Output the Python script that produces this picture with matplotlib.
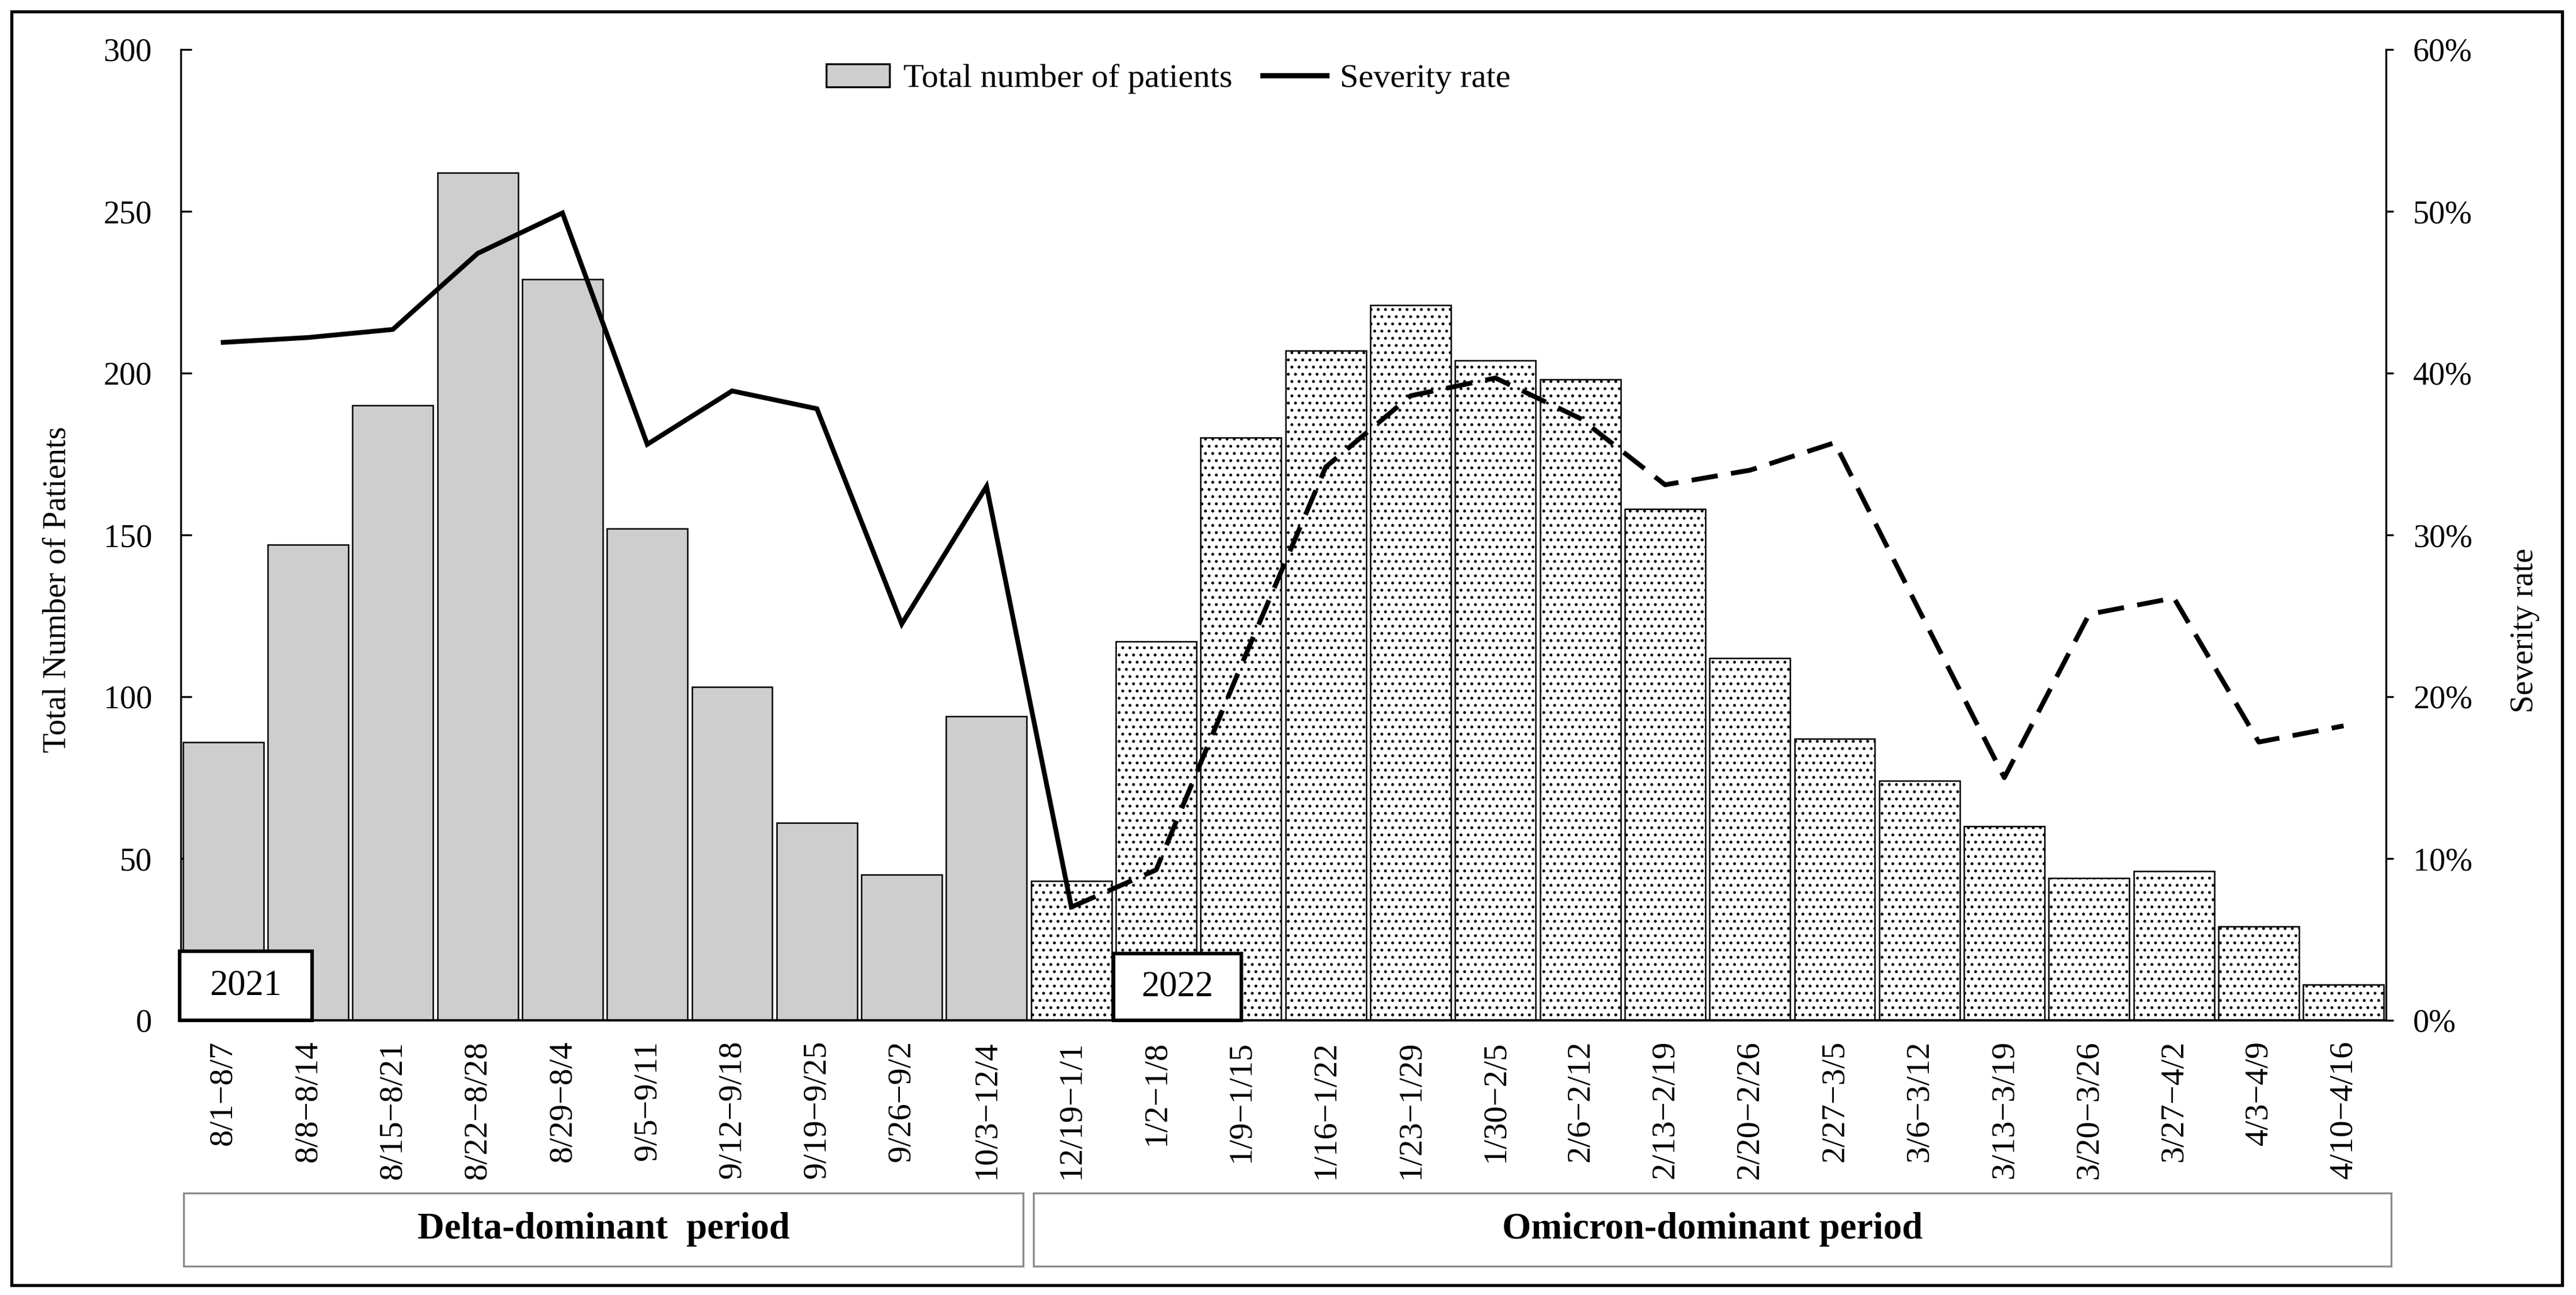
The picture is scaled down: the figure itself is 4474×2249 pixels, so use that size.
import matplotlib
matplotlib.use('Agg')
import matplotlib.pyplot as plt
from matplotlib.patches import Rectangle, Patch
from matplotlib.lines import Line2D
from matplotlib.ticker import FuncFormatter, MultipleLocator
import numpy as np

plt.rcParams['font.family'] = ['Liberation Serif', 'DejaVu Serif']
plt.rcParams['hatch.linewidth'] = 0.6

# ---------------- data ----------------
categories = ['8/1\u22128/7', '8/8\u22128/14', '8/15\u22128/21', '8/22\u22128/28', '8/29\u22128/4',
              '9/5\u22129/11', '9/12\u22129/18', '9/19\u22129/25', '9/26\u22129/2', '10/3\u221212/4',
              '12/19\u22121/1', '1/2\u22121/8', '1/9\u22121/15', '1/16\u22121/22', '1/23\u22121/29',
              '1/30\u22122/5', '2/6\u22122/12', '2/13\u22122/19', '2/20\u22122/26', '2/27\u22123/5',
              '3/6\u22123/12', '3/13\u22123/19', '3/20\u22123/26', '3/27\u22124/2', '4/3\u22124/9',
              '4/10\u22124/16']
patients = [86, 147, 190, 262, 229, 152, 103, 61, 45, 94,
            43, 117, 180, 207, 221, 204, 198, 158, 112, 87,
            74, 60, 44, 46, 29, 11]
severity_pct = [41.9, 42.2, 42.7, 47.4, 49.9, 35.6, 38.9, 37.8, 24.5, 33.0,
                7.0, 9.3, 21.9, 34.2, 38.6, 39.7, 37.2, 33.1, 34.0, 35.7,
                25.3, 15.0, 25.1, 26.1, 17.2, 18.2]
n_delta_bars = 10          # first 10 weeks: Delta-dominant (gray bars)
n_solid_points = 11        # solid line through 12/19-1/1, dashed afterwards
period_labels = ['Delta-dominant  period', 'Omicron-dominant period']
year_labels = ['2021', '2022']
legend_labels = ['Total number of patients', 'Severity rate']

# ---------------- layout ----------------
W, H, DPI = 4474, 2249, 300
fig = plt.figure(figsize=(W / DPI, H / DPI), dpi=DPI)
fig.patch.set_facecolor('white')

def fx(px):
    return px / W

def fy(py):
    return 1 - py / H

ax = fig.add_axes([fx(314), fy(1772), (4144 - 314) / W, (1772 - 86) / H])
x = np.arange(len(categories))

ax.bar(x[:n_delta_bars], patients[:n_delta_bars], width=0.95, color='#CECECE',
       edgecolor='black', linewidth=0.6, zorder=2)
ax.bar(x[n_delta_bars:], patients[n_delta_bars:], width=0.95, color='white',
       edgecolor='black', hatch='....', linewidth=0.6, zorder=2)

ax.set_xlim(-0.5, len(categories) - 0.5)
ax.set_ylim(0, 300)
ax.yaxis.set_major_locator(MultipleLocator(50))
ax.set_xticks(x)
ax.set_xticklabels(categories)
ax.tick_params(axis='x', length=0, pad=8.4, labelsize=14, labelrotation=90)
ax.tick_params(axis='y', direction='in', length=4.6, width=0.8, pad=12, labelsize=13.5)
for s in ['top', 'right']:
    ax.spines[s].set_visible(False)
ax.spines['left'].set_linewidth(0.8)
ax.spines['bottom'].set_linewidth(1.0)

ax2 = ax.twinx()
ax2.set_ylim(0, 60)
ax2.yaxis.set_major_locator(MultipleLocator(10))
ax2.yaxis.set_major_formatter(FuncFormatter(lambda v, p: f'{v:.0f}%'))
ax2.tick_params(axis='y', direction='out', length=3.1, width=0.8, pad=8.2, labelsize=13.5)
for s in ['top', 'left', 'bottom']:
    ax2.spines[s].set_visible(False)
ax2.spines['right'].set_linewidth(0.8)

ax2.plot(x[:n_solid_points], severity_pct[:n_solid_points], color='black', lw=2.0,
         solid_joinstyle='miter', zorder=5)
ax2.plot(x[n_solid_points - 1:], severity_pct[n_solid_points - 1:], color='black', lw=2.0,
         linestyle=(0, (5.5, 2.8)), zorder=5)

# year boxes inside plot
year_boxes = [(-0.514, 1.562, 21.35), (10.497, 1.507, 20.6)]
for (bx, bw, bh), lab in zip(year_boxes, year_labels):
    ax.add_patch(Rectangle((bx, 0), bw, bh, facecolor='white', edgecolor='black',
                           lw=1.5, zorder=4, clip_on=False))
    ax.text(bx + bw / 2, bh / 2, lab, ha='center', va='center', fontsize=15, zorder=5)

# axis titles
fig.text(fx(100), fy(1024), 'Total Number of Patients', rotation=90, ha='center',
         va='center', fontsize=13.5)
fig.text(fx(4385), fy(1095), 'Severity rate', rotation=90, ha='center',
         va='center', fontsize=13.5)

# legend
handles = [Patch(facecolor='#CECECE', edgecolor='black', lw=0.8),
           Line2D([], [], color='black', lw=2.2)]
fig.legend(handles, legend_labels, loc='center', bbox_to_anchor=(fx(2029), fy(137)),
           ncol=2, frameon=False, fontsize=14, handlelength=1.9, handletextpad=0.4,
           columnspacing=0.9, borderpad=0, borderaxespad=0)

# period boxes
period_boxes = [(319, 1777), (1795, 4153)]
for (x0, x1), lab in zip(period_boxes, period_labels):
    fig.add_artist(Rectangle((fx(x0), fy(2199)), (x1 - x0) / W, (2199 - 2072) / H,
                             transform=fig.transFigure, fill=False,
                             edgecolor='#8a8a8a', lw=0.8))
    fig.text(fx((x0 + x1) / 2), fy(2135), lab, ha='center', va='center',
             fontsize=15.5, fontweight='bold')

# outer border
fig.add_artist(Rectangle((fx(20), fy(2232)), (4450 - 20) / W, (2232 - 20) / H,
                         transform=fig.transFigure, fill=False, edgecolor='black', lw=1.3))

fig.savefig('out.png', dpi=DPI, facecolor='white')
